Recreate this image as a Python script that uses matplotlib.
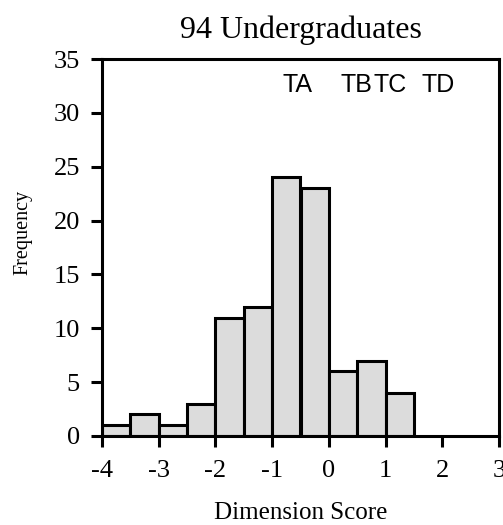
import matplotlib
matplotlib.use("Agg")
import matplotlib.pyplot as plt
import numpy as np

bin_edges = [-4.0, -3.5, -3.0, -2.5, -2.0, -1.5, -1.0, -0.5, 0.0, 0.5, 1.0, 1.5]
frequencies = [1, 2, 1, 3, 11, 12, 24, 23, 6, 7, 4]
x_ticks = [-4, -3, -2, -1, 0, 1, 2, 3]
y_ticks = [0, 5, 10, 15, 20, 25, 30, 35]
markers = ["TA", "TB", "TC", "TD"]
marker_x = [-0.81, 0.21, 0.79, 1.63]

serif = ["Liberation Serif", "DejaVu Serif"]
sans = ["Liberation Sans", "DejaVu Sans"]

fig = plt.figure(figsize=(5.03, 5.25), dpi=100)
ax = fig.add_axes([102/503, 1-436/525, (499-102)/503, (436-59)/525])

lefts = np.array(bin_edges[:-1])
widths = np.diff(bin_edges)
ax.bar(lefts, frequencies, width=widths, align="edge", color="#dcdcdc",
       edgecolor="black", linewidth=2.2, zorder=2)

ax.set_xlim(-4, 3)
ax.set_ylim(0, 35)
ax.set_xticks(x_ticks)
ax.set_yticks(y_ticks)
ax.set_xticklabels([str(t) for t in x_ticks], family=serif, fontsize=19)
ax.set_yticklabels([str(t) for t in y_ticks], family=serif, fontsize=19)
ax.tick_params(axis="both", direction="out", length=8, width=2.2, color="black")
ax.tick_params(axis="x", pad=9)
ax.tick_params(axis="y", pad=8)
for s in ax.spines.values():
    s.set_linewidth(2.2)

for lab, xv in zip(markers, marker_x):
    ax.text(xv, 32.6, lab, family=sans, fontsize=18, ha="left", va="center")

ax.set_title("94 Undergraduates", family=serif, fontsize=23, pad=15)
ax.set_xlabel("Dimension Score", family=serif, fontsize=18, labelpad=15)
ax.set_ylabel("Frequency", family=serif, fontsize=14.5)
ax.yaxis.set_label_coords(-0.175, 0.54)

fig.savefig("out.png", dpi=100)
